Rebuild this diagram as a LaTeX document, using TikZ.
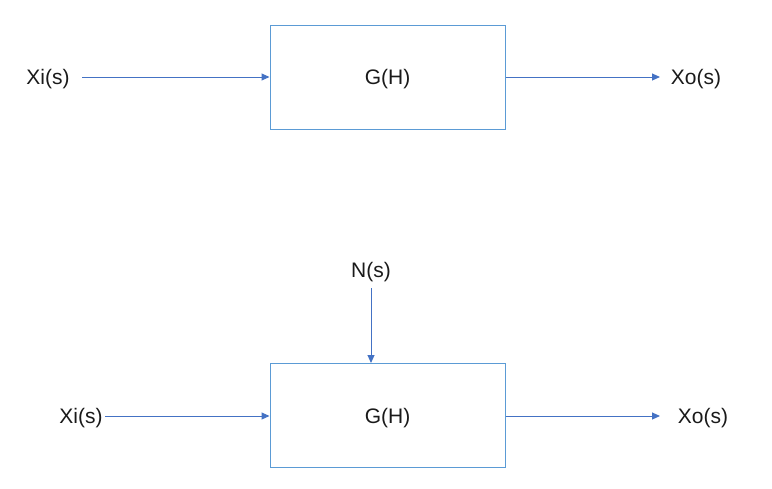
\documentclass[tikz,border=0pt]{standalone}
\usepackage{fontspec}
\setmainfont{Liberation Sans}
\usetikzlibrary{arrows.meta}
\definecolor{arrowblue}{HTML}{4472C4}
\definecolor{boxblue}{HTML}{5B9BD5}
\definecolor{txt}{HTML}{1A1A1A}
\tikzset{
  blockbox/.style={draw=boxblue, line width=1pt, minimum width=235pt, minimum height=104pt, inner sep=0pt},
  lbl/.style={font=\fontsize{21}{25}\selectfont, text=txt, inner sep=0pt},
  sig/.style={draw=arrowblue, line width=1pt, -{Triangle[length=8pt,width=7pt]}}
}
\begin{document}
\begin{tikzpicture}[x=1pt,y=-1pt]
\useasboundingbox (0,0) rectangle (772,488);
% top
\node[blockbox] (g1) at (387.5,77) {};
\node[lbl] (g1t) at (387.5,79) {G(H)};
\node[lbl] (xi1) at (48,79) {Xi(s)};
\node[lbl] (xo1) at (696,79) {Xo(s)};
\coordinate (a1) at (82,77);
\coordinate (b1) at (660,77);
\draw[sig] (a1) -- (g1.west);
\draw[sig] (g1.east) -- (b1);
% bottom
\node[blockbox] (g2) at (387.5,415.5) {};
\node[lbl] (g2t) at (387.5,418) {G(H)};
\node[lbl] (xi2) at (81,418) {Xi(s)};
\node[lbl] (xo2) at (703,418) {Xo(s)};
\node[lbl] (ns) at (371,272) {N(s)};
\coordinate (a2) at (105,416);
\coordinate (b2) at (660,416);
\coordinate (n1) at (371,288);
\draw[sig] (a2) -- (g2.west |- a2);
\draw[sig] (g2.east |- b2) -- (b2);
\draw[sig] (n1) -- (n1 |- g2.north);
\end{tikzpicture}
\end{document}
